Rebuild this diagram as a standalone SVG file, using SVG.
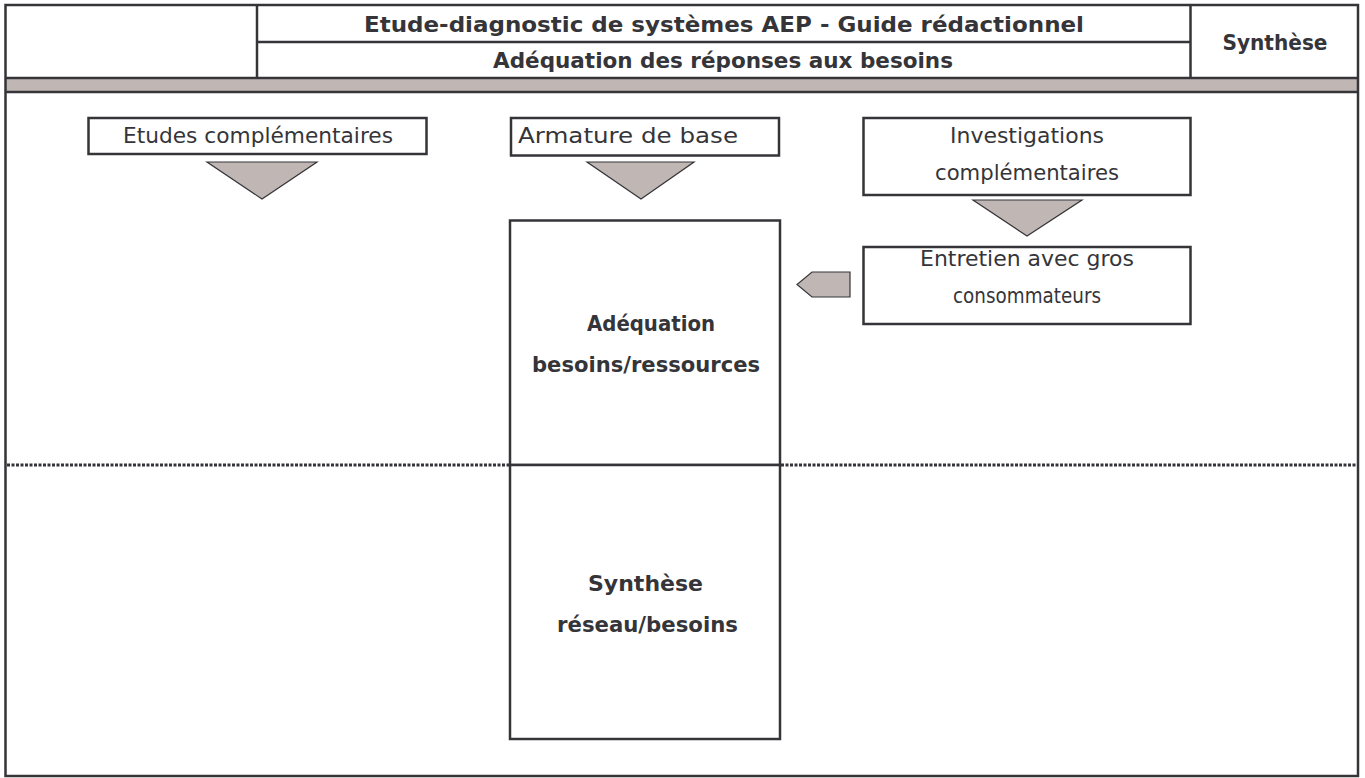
<svg xmlns="http://www.w3.org/2000/svg" width="1365" height="778" viewBox="0 0 1365 778">
<style>
.ln{stroke:#353539;stroke-width:2.5;fill:none}
.box{stroke:#353539;stroke-width:2.5;fill:#ffffff}
.tri{fill:#c0b7b4;stroke:#353539;stroke-width:1.2;stroke-linejoin:miter}
.t{font-family:"DejaVu Sans","Liberation Sans",sans-serif;font-size:21.5px;fill:#353539}
.b{font-family:"DejaVu Sans","Liberation Sans",sans-serif;font-size:21px;font-weight:bold;fill:#353539}
.m{text-anchor:middle}
</style>
<rect x="0" y="0" width="1365" height="778" fill="#ffffff"/>
<g id="frame">
<rect x="5" y="79" width="1353" height="12" fill="#c0b7b4"/>
<rect class="ln" x="5.5" y="5" width="1352.5" height="771"/>
<line class="ln" x1="5" y1="78" x2="1358" y2="78"/>
<line class="ln" x1="5" y1="92" x2="1358" y2="92"/>
<line class="ln" x1="257" y1="5" x2="257" y2="78"/>
<line class="ln" x1="1190.5" y1="5" x2="1190.5" y2="78"/>
<line class="ln" x1="257" y1="42" x2="1190.5" y2="42"/>
<text class="b m" x="724" y="32" textLength="720" lengthAdjust="spacingAndGlyphs">Etude-diagnostic de systèmes AEP - Guide rédactionnel</text>
<text class="b m" x="723" y="68" textLength="460" lengthAdjust="spacingAndGlyphs">Adéquation des réponses aux besoins</text>
<text class="b m" x="1275" y="50" textLength="105" lengthAdjust="spacingAndGlyphs">Synthèse</text>
<line x1="7" y1="465" x2="1357" y2="465" stroke="#353539" stroke-width="3" stroke-dasharray="3 1.5"/>
</g>
<g id="etudes">
<rect class="box" x="88.5" y="118" width="338" height="36"/>
<text class="t m" x="258" y="143" textLength="270" lengthAdjust="spacingAndGlyphs">Etudes complémentaires</text>
</g>
<g id="armature">
<rect class="box" x="511" y="118" width="268" height="37.5"/>
<text class="t" x="518" y="143" textLength="220" lengthAdjust="spacingAndGlyphs">Armature de base</text>
</g>
<g id="investigations">
<rect class="box" x="863.5" y="118" width="327" height="77"/>
<text class="t m" x="1027" y="143" textLength="154" lengthAdjust="spacingAndGlyphs">Investigations</text>
<text class="t m" x="1027" y="180" textLength="184" lengthAdjust="spacingAndGlyphs">complémentaires</text>
</g>
<g id="entretien">
<rect class="box" x="863.5" y="247" width="327" height="77"/>
<text class="t m" x="1027" y="266" textLength="214" lengthAdjust="spacingAndGlyphs">Entretien avec gros</text>
<text class="t m" x="1027" y="303" textLength="148" lengthAdjust="spacingAndGlyphs">consommateurs</text>
</g>
<g id="adequation">
<rect class="box" x="510" y="220.5" width="270" height="244.5"/>
<text class="b m" x="651" y="331" textLength="128" lengthAdjust="spacingAndGlyphs">Adéquation</text>
<text class="b m" x="646" y="372" textLength="228" lengthAdjust="spacingAndGlyphs">besoins/ressources</text>
</g>
<g id="synthese">
<rect class="box" x="510" y="465" width="270" height="274"/>
<text class="b m" x="645.5" y="591" textLength="115" lengthAdjust="spacingAndGlyphs">Synthèse</text>
<text class="b m" x="647.5" y="632" textLength="181" lengthAdjust="spacingAndGlyphs">réseau/besoins</text>
</g>
<g id="connectors">
<polygon class="tri" points="207,162 317,162 262,199"/>
<polygon class="tri" points="587,162 694,162 641,199"/>
<polygon class="tri" points="973,200 1082,200 1027,236"/>
<polygon class="tri" points="850,272 812,272 797,284.5 812,297 850,297"/>
</g>
</svg>
